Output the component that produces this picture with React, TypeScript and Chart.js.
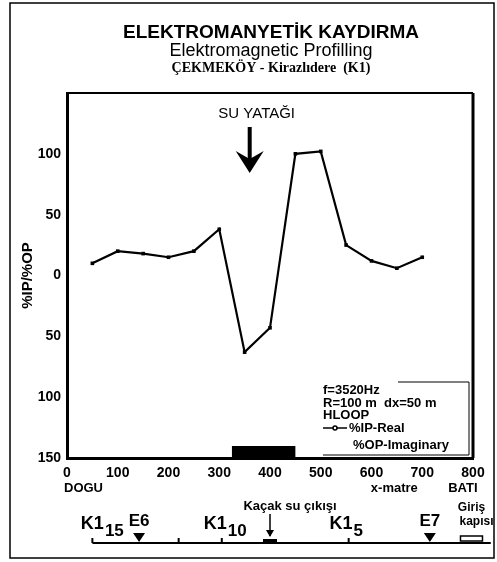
import React, { useEffect, useRef } from 'react';
import { Chart, registerables } from 'chart.js';

Chart.register(...registerables);

// ---- data ----
const positions = [50, 100, 150, 200, 250, 300, 350, 400, 450, 500, 550, 600, 650, 700];
const ipReal = [10, 20, 18, 15, 20, 38, -63, -43, 100, 102, 25, 12, 6, 15];
const xTickValues = [0, 100, 200, 300, 400, 500, 600, 700, 800];
const yTickValues = [-150, -100, -50, 0, 50, 100, 150];
const titleLines = ['ELEKTROMANYETİK KAYDIRMA', 'Elektromagnetic Profilling', 'ÇEKMEKÖY - Kirazlıdere  (K1)'];
const legendLines = ['f=3520Hz', 'R=100 m  dx=50 m', 'HLOOP', '%IP-Real', '%OP-Imaginary'];
const waterBedRange = [325, 450];
const waterBedLabel = 'SU YATAĞI';
const waterBedArrowX = 360;
const stationTicks = [50, 220, 305, 555];
const stationLabels = [
  { x: 50, main: 'K1', sub: '15' },
  { x: 292, main: 'K1', sub: '10' },
  { x: 540, main: 'K1', sub: '5' },
];
const gates = [
  { x: 142, label: 'E6' },
  { x: 715, label: 'E7' },
];
const leakX = 400;
const leakLabel = 'Kaçak su çıkışı';
const entranceX = 797;
const entranceLabel = ['Giriş', 'kapısı'];
const axisWords = { left: 'DOGU', unit: 'x-matre', right: 'BATI' };

const SANS = '"Liberation Sans", Arial, sans-serif';
const SERIF = '"Liberation Serif", "Times New Roman", serif';

const overlay = {
  id: 'overlay',
  beforeDraw(chart: any) {
    const { ctx, width, height } = chart;
    ctx.save();
    ctx.fillStyle = '#fff';
    ctx.fillRect(0, 0, width, height);
    ctx.restore();
  },
  afterDatasetsDraw(chart: any) {
    const { ctx, chartArea: a, scales } = chart;
    const x = scales.x;
    ctx.save();
    ctx.fillStyle = '#000';
    const x0 = x.getPixelForValue(waterBedRange[0]);
    const x1 = x.getPixelForValue(waterBedRange[1]);
    ctx.fillRect(x0, a.bottom - 12, x1 - x0, 12);
    ctx.restore();
  },
  afterDraw(chart: any) {
    const { ctx, chartArea: a, scales, width, height } = chart;
    const x = scales.x;
    ctx.save();
    ctx.fillStyle = '#000';
    ctx.strokeStyle = '#000';

    // outer frame
    ctx.lineWidth = 1.5;
    ctx.strokeRect(10, 3, width - 13, height - 7);

    // plot box top/right
    ctx.lineWidth = 2;
    ctx.beginPath();
    ctx.moveTo(a.left, a.top);
    ctx.lineTo(a.right, a.top);
    ctx.stroke();
    ctx.lineWidth = 3;
    ctx.beginPath();
    ctx.moveTo(a.right, a.top);
    ctx.lineTo(a.right, a.bottom);
    ctx.stroke();

    // titles
    const cx = 271;
    ctx.textAlign = 'center';
    ctx.textBaseline = 'middle';
    ctx.font = `bold 19px ${SANS}`;
    ctx.fillText(titleLines[0], cx, 33);
    ctx.font = `18px ${SANS}`;
    ctx.fillText(titleLines[1], cx, 51);
    ctx.font = `bold 14px ${SERIF}`;
    ctx.fillText(titleLines[2], cx, 68);

    // SU YATAGI label and arrow
    const ax = x.getPixelForValue(waterBedArrowX);
    ctx.font = `15px ${SANS}`;
    ctx.fillText(waterBedLabel, ax + 7, a.top + 21);
    ctx.fillRect(ax - 2, a.top + 34, 4, 34);
    ctx.beginPath();
    ctx.moveTo(ax - 14, a.top + 58);
    ctx.lineTo(ax, a.top + 80);
    ctx.lineTo(ax + 14, a.top + 58);
    ctx.lineTo(ax, a.top + 66);
    ctx.closePath();
    ctx.fill();

    // legend block
    const lx = a.right - 150;
    const lb = a.bottom;
    ctx.textAlign = 'left';
    ctx.font = `bold 13px ${SANS}`;
    ctx.fillText(legendLines[0], lx, lb - 68);
    ctx.fillText(legendLines[1], lx, lb - 55);
    ctx.fillText(legendLines[2], lx, lb - 43);
    ctx.fillText(legendLines[3], lx + 26, lb - 30);
    ctx.fillText(legendLines[4], lx + 30, lb - 13);
    ctx.lineWidth = 1.5;
    ctx.beginPath();
    ctx.moveTo(lx, lb - 30);
    ctx.lineTo(lx + 24, lb - 30);
    ctx.stroke();
    ctx.beginPath();
    ctx.arc(lx + 12, lb - 30, 2, 0, Math.PI * 2);
    ctx.fillStyle = '#fff';
    ctx.fill();
    ctx.stroke();
    ctx.fillStyle = '#000';
    ctx.lineWidth = 1;
    ctx.beginPath();
    ctx.moveTo(lx + 75, lb - 76);
    ctx.lineTo(a.right - 4, lb - 76);
    ctx.lineTo(a.right - 4, lb - 3);
    ctx.lineTo(lx, lb - 3);
    ctx.stroke();

    // axis words
    ctx.font = `bold 13px ${SANS}`;
    ctx.textAlign = 'left';
    ctx.fillText(axisWords.left, x.getPixelForValue(0) - 3, a.bottom + 30);
    ctx.textAlign = 'center';
    ctx.fillText(axisWords.unit, x.getPixelForValue(645), a.bottom + 30);
    ctx.fillText(axisWords.right, x.getPixelForValue(780), a.bottom + 30);

    // station line
    const ly = 543;
    ctx.lineWidth = 2;
    ctx.beginPath();
    ctx.moveTo(x.getPixelForValue(stationTicks[0]), ly);
    ctx.lineTo(x.getPixelForValue(835), ly);
    ctx.stroke();
    stationTicks.forEach((v) => {
      const px = x.getPixelForValue(v);
      ctx.beginPath();
      ctx.moveTo(px, ly);
      ctx.lineTo(px, ly - 5);
      ctx.stroke();
    });
    stationLabels.forEach((s) => {
      const px = x.getPixelForValue(s.x);
      ctx.font = `bold 18px ${SANS}`;
      ctx.textAlign = 'center';
      ctx.fillText(s.main, px, 524);
      const w = ctx.measureText(s.main).width;
      ctx.font = `bold 17px ${SANS}`;
      ctx.textAlign = 'left';
      ctx.fillText(s.sub, px + w / 2 + 1, 531);
    });
    gates.forEach((g) => {
      const px = x.getPixelForValue(g.x);
      ctx.font = `bold 17px ${SANS}`;
      ctx.textAlign = 'center';
      ctx.fillText(g.label, px, 521);
      ctx.beginPath();
      ctx.moveTo(px - 6, ly - 10);
      ctx.lineTo(px + 6, ly - 10);
      ctx.lineTo(px, ly - 1);
      ctx.closePath();
      ctx.fill();
    });
    // leak arrow
    const kx = x.getPixelForValue(leakX);
    ctx.font = `bold 13px ${SANS}`;
    ctx.textAlign = 'center';
    ctx.fillText(leakLabel, kx + 20, 506);
    ctx.lineWidth = 1.5;
    ctx.beginPath();
    ctx.moveTo(kx, 514);
    ctx.lineTo(kx, 536);
    ctx.stroke();
    ctx.beginPath();
    ctx.moveTo(kx - 4, 530);
    ctx.lineTo(kx, 537);
    ctx.lineTo(kx + 4, 530);
    ctx.closePath();
    ctx.fill();
    ctx.fillRect(kx - 7, ly - 4, 14, 4);
    // entrance
    const ex = x.getPixelForValue(entranceX);
    ctx.font = `bold 12px ${SANS}`;
    ctx.fillText(entranceLabel[0], ex, 508);
    ctx.fillText(entranceLabel[1], ex + 5, 522);
    ctx.lineWidth = 1.5;
    ctx.strokeRect(ex - 11, ly - 7, 22, 5);
    ctx.restore();
  },
};

export default function App() {
  const ref = useRef<HTMLCanvasElement>(null);
  useEffect(() => {
    if (!ref.current) return;
    const chart = new Chart(ref.current, {
      type: 'line',
      data: {
        labels: positions,
        datasets: [
          {
            label: '%IP-Real',
            data: positions.map((p, i) => ({ x: p, y: ipReal[i] })),
            borderColor: '#000',
            backgroundColor: '#000',
            borderWidth: 2.2,
            pointRadius: 1,
            pointStyle: 'rect',
            tension: 0,
          },
        ],
      },
      options: {
        animation: false,
        responsive: false,
        devicePixelRatio: 1,
        layout: { padding: { left: 0, right: 24, top: 93, bottom: 84 } },
        plugins: { legend: { display: false }, tooltip: { enabled: false }, title: { display: false } },
        scales: {
          x: {
            type: 'linear',
            min: 0,
            max: 800,
            afterBuildTicks: (s: any) => {
              s.ticks = xTickValues.map((v) => ({ value: v }));
            },
            afterFit: (s: any) => {
              s.height = 20;
            },
            grid: { display: false, drawTicks: false },
            border: { display: true, color: '#000', width: 3 },
            ticks: {
              color: '#000',
              padding: 7,
              maxRotation: 0,
              autoSkip: false,
              font: { family: SANS, size: 14, weight: 'bold' },
            },
          },
          y: {
            type: 'linear',
            min: -150,
            max: 150,
            afterBuildTicks: (s: any) => {
              s.ticks = yTickValues.map((v) => ({ value: v }));
            },
            afterFit: (s: any) => {
              s.width = 67;
            },
            grid: { display: false, drawTicks: false },
            border: { display: true, color: '#000', width: 3 },
            title: {
              display: true,
              text: '%IP/%OP',
              color: '#000',
              font: { family: SANS, size: 15, weight: 'bold' },
              padding: { top: 19, bottom: 0 },
            },
            ticks: {
              color: '#000',
              padding: 6,
              autoSkip: false,
              font: { family: SANS, size: 14, weight: 'bold' },
              callback: (v: any) => (v === 150 ? '' : String(Math.abs(v))),
            },
          },
        },
      },
      plugins: [overlay],
    });
    return () => chart.destroy();
  }, []);
  return (
    <div style={{ position: 'fixed', left: 0, top: 0, width: 497, height: 562 }}>
      <canvas ref={ref} width={497} height={562} style={{ width: 497, height: 562 }} />
    </div>
  );
}
